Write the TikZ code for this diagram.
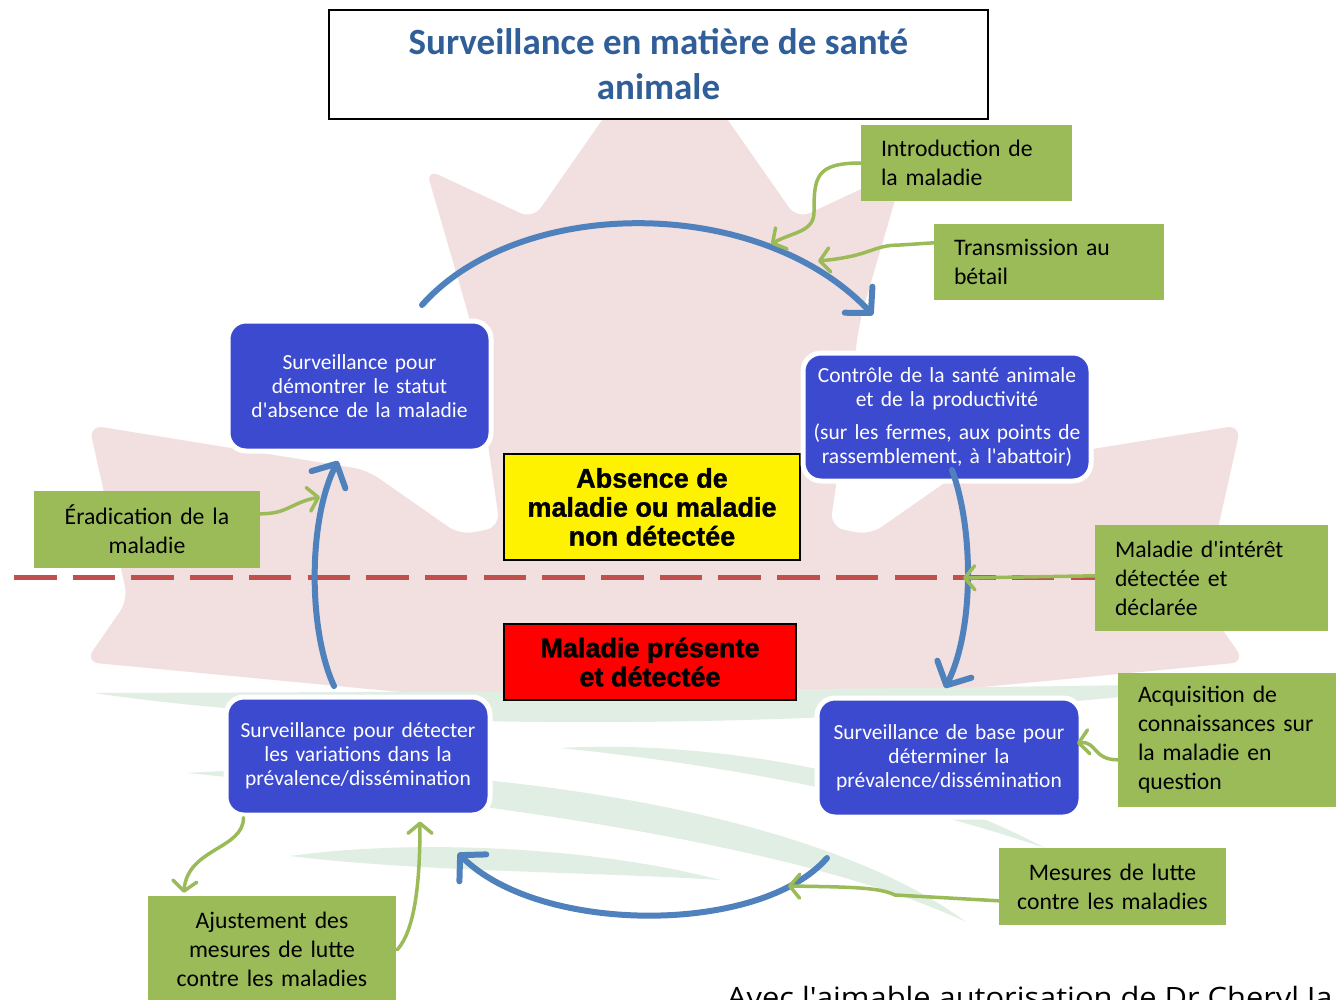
\documentclass[tikz,border=0pt]{standalone}
\usepackage{fontspec}
\setmainfont{Carlito}
\newfontfamily\heavyfont[BoldFeatures={FakeBold=1.2}]{Liberation Sans}
\newfontfamily\creditfont[FakeStretch=1.1]{Open Sans}
\usetikzlibrary{arrows.meta,calc}
\definecolor{leafpink}{RGB}{242,223,223}
\definecolor{swooshgreen}{RGB}{225,238,227}
\definecolor{titleblue}{RGB}{47,94,152}
\definecolor{boxblue}{RGB}{60,74,207}
\definecolor{arrowblue}{RGB}{79,129,189}
\definecolor{boxgreen}{RGB}{155,187,89}
\definecolor{dashred}{RGB}{192,80,77}
\newcommand{\apo}{\textquotesingle}
% crescent band: tip A, top controls, tip B, bottom controls
\newcommand{\myband}[6]{%
  \fill[swooshgreen] (#1) .. controls (#2) and (#3) .. (#4) .. controls (#5) and (#6) .. (#1);}
\tikzset{
  bluebox/.style={draw=white, line width=5pt, fill=boxblue, rounded corners=18pt,
    text=white, align=center, inner sep=0pt, font=\fontsize{21.5}{24}\selectfont},
  greenleft/.style={fill=boxgreen, inner ysep=0pt, inner xsep=20pt, align=left,
    font=\fontsize{23.7}{29}\selectfont},
  greencenter/.style={fill=boxgreen, inner ysep=0pt, inner xsep=8pt, align=center,
    font=\fontsize{23.7}{29}\selectfont},
  statebox/.style={draw=black, line width=1.6pt, align=center, inner sep=0pt,
    font=\heavyfont\bfseries\fontsize{27}{29}\selectfont},
  bluearrow/.style={draw=arrowblue, line width=6pt, line cap=round,
    -{Straight Barb[length=18pt,width=38pt,round]}},
  greenarrow/.style={draw=boxgreen, line width=3.5pt, line cap=round,
    -{Straight Barb[length=10pt,width=24pt,round]}},
  dashline/.style={draw=dashred, line width=5pt, dash pattern=on 42.5pt off 16.2pt}
}
\begin{document}
\begin{tikzpicture}[x=1pt,y=-1pt]
\useasboundingbox (0,0) rectangle (1336,999);
\clip (0,0) rectangle (1336,999);
\fill[white] (0,0) rectangle (1336,999);

% background maple leaf
\fill[leafpink, rounded corners=14pt]
  (665,30) -- (533,219) -- (426,169) -- (470,320) -- (500,527) -- (460,535)
  -- (367,470) -- (89,425) -- (128,600) -- (85,662) -- (400,692) -- (665,702)
  -- (930,692) -- (1245,662) -- (1202,600) -- (1241,425) -- (963,470)
  -- (870,535) -- (830,527) -- (860,320) -- (904,169) -- (797,219) -- cycle;

% background swooshes (pale green bands)
\myband{94,693}{400,692}{900,690}{1243,683}{900,728}{400,738}
\myband{187,773}{420,758}{800,798}{966,922}{780,835}{420,796}
\myband{290,856}{420,838}{600,848}{720,880}{600,872}{420,872}
\myband{560,748}{700,740}{900,770}{1045,848}{880,792}{700,762}

% dashed separator
\coordinate (dl0) at (14,577);

% green callout boxes
\node[greenleft, text width=171pt, minimum width=211pt, minimum height=76pt] (ga) at (966.5,163)
  {Introduction de\\la maladie};
\node[greenleft, text width=190pt, minimum width=230pt, minimum height=76pt] (gb) at (1049,262)
  {Transmission au\\bétail};
\node[greencenter, text width=210pt, minimum width=226pt, minimum height=77pt] (gc) at (147,529.5)
  {Éradication de la\\maladie};
\node[greenleft, text width=193pt, minimum width=233pt, minimum height=106pt] (gd) at (1211.5,578)
  {Maladie d\apo intérêt\\détectée et\\déclarée};
\node[greenleft, text width=180pt, minimum width=220pt, minimum height=134pt] (ge) at (1228,740)
  {Acquisition de\\connaissances sur\\la maladie en\\question};
\node[greencenter, text width=211pt, minimum width=227pt, minimum height=77pt] (gf) at (1112.5,886.5)
  {Mesures de lutte\\contre les maladies};
\node[greencenter, text width=232pt, minimum width=248pt, minimum height=106pt] (gg) at (272,949)
  {Ajustement des\\mesures de lutte\\contre les maladies};

\draw[dashline] (dl0) -- (dl0 -| gd.west);

% title
\node[draw=black, line width=2pt, fill=white, minimum width=659pt, minimum height=109pt,
  align=center, text=titleblue, font=\bfseries\fontsize{37}{45}\selectfont] (title)
  at (658.5,64.5) {Surveillance en matière de santé\\animale};

% state boxes
\node[statebox, fill=yellow, minimum width=296pt, minimum height=106pt] (absent) at (652,507)
  {Absence de\\maladie ou maladie\\non détectée};
\node[statebox, fill=red, minimum width=292pt, minimum height=76pt] (present) at (650,662)
  {Maladie présente\\et détectée};

% blue process boxes
\node[bluebox, minimum width=263pt, minimum height=130pt, text width=243pt] (b1) at (359.5,386)
  {Surveillance pour\\démontrer le statut\\d\apo absence de la maladie};
\node[bluebox, minimum width=288pt, minimum height=128pt, text width=278pt] (b2) at (947,417)
  {Contrôle de la santé animale\\et de la productivité\\[9pt](sur les fermes, aux points de\\rassemblement, à l\apo abattoir)};
\node[bluebox, minimum width=264pt, minimum height=119pt, text width=254pt] (b3) at (949,757.5)
  {Surveillance de base pour\\déterminer la\\prévalence/dissémination};
\node[bluebox, minimum width=264pt, minimum height=118pt, text width=254pt] (b4) at (358,756)
  {Surveillance pour détecter\\les variations dans la\\prévalence/dissémination};

% cycle arrows
\coordinate (t0) at (422,305);
\coordinate (t1) at (873,315);
\coordinate (r0) at (952,470);
\coordinate (r1) at (945,688);
\coordinate (u0) at (827,858);
\coordinate (u1) at (458,853);
\coordinate (l0) at (334,686);
\coordinate (l1) at (338,461);
\draw[bluearrow] (t0) .. controls (520,195) and (760,195) .. (t1);
\draw[bluearrow] (r0) .. controls (974,530) and (974,630) .. (r1);
\draw[bluearrow] (u0) .. controls (760,935) and (540,935) .. (u1);
\draw[bluearrow] (l0) .. controls (308,630) and (308,520) .. (l1);

% green connectors
\coordinate (ea) at (771,244);
\coordinate (eb) at (818,261);
\coordinate (ec) at (320,497);
\coordinate (ed) at (963,578);
\coordinate (ee) at (1077,743);
\coordinate (ef) at (788,886);
\draw[greenarrow] (ga.west) .. controls +(-45,0) and +(0,-35) .. (814,212)
  .. controls +(0,20) and +(22,-12) .. (ea);
\draw[greenarrow] ($(gb.north west)+(0,19)$) -- (900,245)
  .. controls (872,245) and (872,256) .. (eb);
\draw[greenarrow] ($(gc.north east)+(0,23)$) .. controls +(28,0) and +(-30,6) .. (ec);
\draw[greenarrow] ($(gd.north west)+(0,51)$) -- (ed);
\draw[greenarrow] ($(ge.north west)+(0,87)$) .. controls +(-25,0) and +(20,-2) .. (ee);
\draw[greenarrow] ($(gf.north west)+(0,53)$) -- (895,895)
  .. controls (880,888) and (860,887) .. (ef);
\draw[greenarrow] ($(b4.south west)+(20,0)$) .. controls +(0,32) and +(4,-45) .. ($(gg.north west)+(36,-3)$);
\draw[greenarrow] ($(gg.north east)+(1,54)$) .. controls +(18,-20) and +(0,60) .. ($(b4.south)+(62,4)$);

% credit line (cut by the page edge, as in the reference)
\node[anchor=base west, inner sep=0pt, font=\creditfont\fontsize{28}{30}\selectfont] (credit)
  at (727,1007) {Avec l\apo aimable autorisation de Dr Cheryl Ja};
\end{tikzpicture}
\end{document}
